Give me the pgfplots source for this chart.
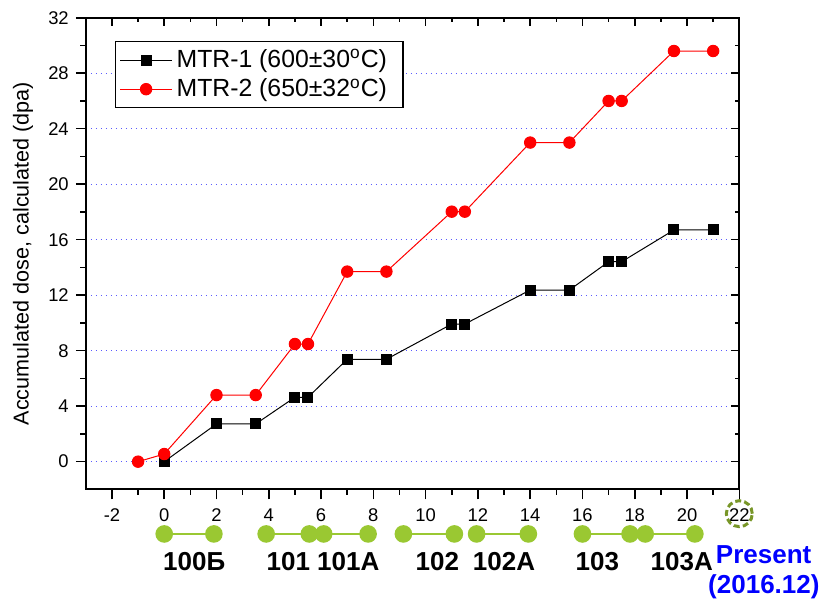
\documentclass[border=0pt]{standalone}
\usepackage{fontspec}
\setmainfont{Liberation Sans}
\usepackage{pgfplots}
\pgfplotsset{compat=1.18}
\definecolor{gridblue}{RGB}{90,90,255}
\definecolor{ygreen}{RGB}{154,200,50}
\definecolor{olivec}{RGB}{120,150,40}
\begin{document}
\begin{tikzpicture}
\useasboundingbox (-42.9pt,-55.8pt) rectangle (368.6pt,244.7pt);
\begin{axis}[
  width=326.75pt, height=235.85pt, scale only axis,
  xmin=-3, xmax=22, ymin=-2, ymax=32,
  xtick={-2,0,...,22}, ytick={0,4,...,32},
  minor x tick num=1, minor y tick num=1,
  xtick pos=left, ytick pos=left,
  tick align=outside,
  major tick length=5pt, minor tick length=2.75pt,
  axis line style={line width=1pt},
  every tick/.style={black, line width=0.8pt},
  ymajorgrids,
  grid style={gridblue, line width=0.6pt, dash pattern=on 0.7pt off 1.8pt},
  ticklabel style={font=\fontsize{9.2}{10}\selectfont},
  xticklabel style={yshift=-1pt},
  /pgf/number format/assume math mode=true,
  ylabel={Accumulated dose, calculated (dpa)},
  ylabel style={font=\fontsize{10.8}{13}\selectfont, at={(axis description cs:-0.0961,0.5)}, anchor=center},
  clip=false,
  legend style={at={(0.0447,0.9506)}, anchor=north west, draw=black, line width=0.6pt,
    font=\fontsize{12.4}{14}\selectfont, inner xsep=2pt, inner ysep=2pt},
  legend cell align=left,
  legend image code/.code={\draw[mark repeat=2,mark phase=2,#1] plot coordinates {(0pt,0pt) (13pt,0pt) (26pt,0pt)};},
]
\addplot[black, line width=0.5pt, mark=square*, mark size=2.5pt] coordinates {
(0,0) (2,2.72) (3.5,2.72) (5,4.64) (5.5,4.64) (7,7.38) (8.5,7.38) (11,9.92) (11.5,9.92)
(14,12.37) (15.5,12.37) (17,14.41) (17.5,14.41) (19.5,16.7) (21,16.7)};
\addlegendentry{MTR-1 (600±30\textsuperscript{o}C)\hspace*{4pt}}
\addplot[red, line width=0.5pt, mark=*, mark size=2.85pt] coordinates {
(-1,0) (0,0.55) (2,4.8) (3.5,4.8) (5,8.48) (5.5,8.48) (7,13.7) (8.5,13.7) (11,18.02) (11.5,18.02)
(14,23) (15.5,23) (17,26) (17.5,26) (19.5,29.6) (21,29.6)};
\addlegendentry{MTR-2 (650±32\textsuperscript{o}C)\hspace*{4pt}}

% timeline of irradiation campaigns
\addplot[ygreen, line width=1.2pt, mark=*, mark size=3.8pt, forget plot] coordinates {(0,-5.21) (1.9,-5.21)};
\addplot[ygreen, line width=1.2pt, mark=*, mark size=3.8pt, forget plot] coordinates {(3.9,-5.21) (5.55,-5.21)};
\addplot[ygreen, line width=1.2pt, mark=*, mark size=3.8pt, forget plot] coordinates {(6.1,-5.21) (7.8,-5.21)};
\addplot[ygreen, line width=1.2pt, mark=*, mark size=3.8pt, forget plot] coordinates {(9.15,-5.21) (11.1,-5.21)};
\addplot[ygreen, line width=1.2pt, mark=*, mark size=3.8pt, forget plot] coordinates {(11.95,-5.21) (13.93,-5.21)};
\addplot[ygreen, line width=1.2pt, mark=*, mark size=3.8pt, forget plot] coordinates {(16.0,-5.21) (17.82,-5.21)};
\addplot[ygreen, line width=1.2pt, mark=*, mark size=3.8pt, forget plot] coordinates {(18.4,-5.21) (20.3,-5.21)};
\addplot[only marks, mark=o, mark size=6.5pt, mark options={olivec, line width=1.5pt, dash pattern=on 3pt off 1.6pt}, forget plot] coordinates {(22,-3.75)};

\begin{scope}[every node/.style={font=\fontsize{13}{15}\selectfont\bfseries, anchor=base, inner sep=0pt}]
\node at (axis cs:1.15,-7.81) {100Б};
\node at (axis cs:4.75,-7.81) {101};
\node at (axis cs:7.04,-7.81) {101A};
\node at (axis cs:10.45,-7.81) {102};
\node at (axis cs:13.0,-7.81) {102A};
\node at (axis cs:16.57,-7.81) {103};
\node at (axis cs:19.8,-7.81) {103A};
\node[text=blue] at (axis cs:22.93,-7.32) {Present};
\node[text=blue] at (axis cs:22.94,-9.49) {(2016.12)};
\end{scope}
\end{axis}
\begin{axis}[
  width=326.75pt, height=235.85pt, scale only axis,
  xmin=-3, xmax=22, ymin=-2, ymax=32,
  xtick={-2,0,...,22}, ytick={0,4,...,32},
  minor x tick num=1, minor y tick num=1,
  xtick pos=right, ytick pos=right,
  tick align=inside,
  major tick length=4pt, minor tick length=2pt,
  axis line style={line width=1pt},
  every tick/.style={black, line width=0.8pt},
  xticklabels={}, yticklabels={},
]
\end{axis}
\end{tikzpicture}
\end{document}
